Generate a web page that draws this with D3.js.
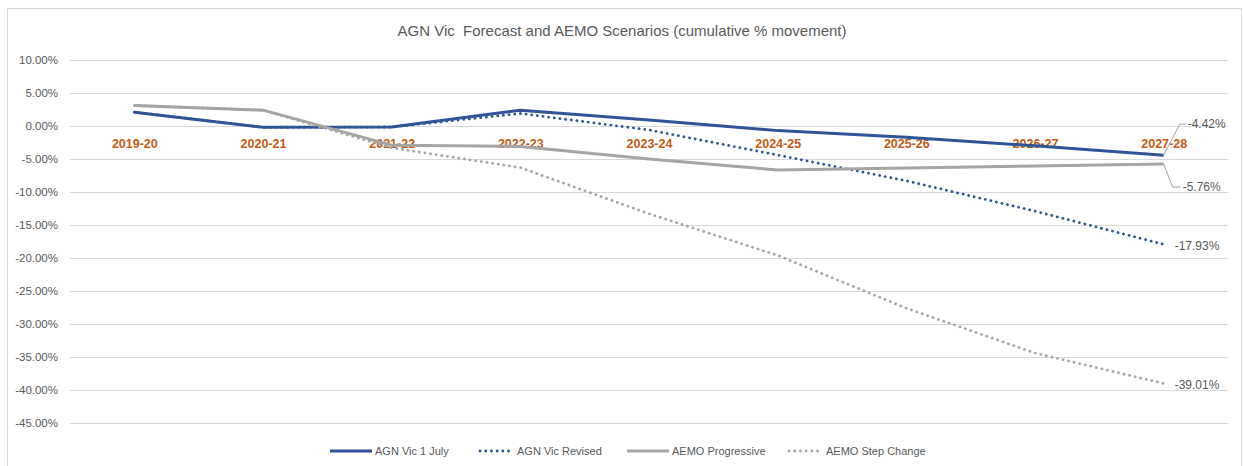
<!DOCTYPE html>
<html>
<head>
<meta charset="utf-8">
<script src="https://cdn.jsdelivr.net/npm/d3@7"></script>
<style>
  body { margin: 0; background: #fff; }
  svg text { font-family: 'Liberation Sans', Arial, sans-serif; }
</style>
</head>
<body>
<div id="outer"></div>
<script>
////////// DATA //////////
const categories = ['2019-20', '2020-21', '2021-22', '2022-23', '2023-24', '2024-25', '2025-26', '2026-27', '2027-28'];
const agnVic1July = [2.1, -0.2, -0.15, 2.4, 0.9, -0.7, -1.7, -3.0, -4.42];
const agnVicRevised = [2.1, -0.2, -0.15, 1.9, -0.6, -4.4, -8.3, -12.9, -17.93];
const aemoProgressive = [3.1, 2.4, -2.9, -3.1, -5.0, -6.67, -6.35, -6.05, -5.76];
const aemoStepChange = [3.1, 2.4, -3.3, -6.3, -13.3, -19.6, -27.6, -34.4, -39.01];
const yTicks = [10, 5, 0, -5, -10, -15, -20, -25, -30, -35, -40, -45];
const seriesNames = ['AGN Vic 1 July', 'AGN Vic Revised', 'AEMO Progressive', 'AEMO Step Change'];

////////// SIZING //////////
const width = 1244, height = 466;
const plot = {left: 70, right: 1228, top: 60, bottom: 423};

// plain hyphen minus, like the source
const pct = d => d.toFixed(2) + '%';

const svg = d3.select('#outer').append('svg')
	.attr('width', width)
	.attr('height', height);

// chart area border
svg.append('rect')
	.attr('x', 7.5).attr('y', 8.5)
	.attr('width', 1234).attr('height', 470)
	.attr('fill', 'none')
	.attr('stroke', '#D9D9D9');

const x = d3.scalePoint().domain(categories).range([plot.left, plot.right]).padding(0.5);
const y = d3.scaleLinear().domain([-45, 10]).range([plot.bottom, plot.top]);

// TITLE //
svg.append('text')
	.attr('x', 622).attr('y', 36)
	.attr('text-anchor', 'middle')
	.attr('fill', '#595959')
	.style('font-size', '15px')
	.style('white-space', 'pre')
	.text('AGN Vic  Forecast and AEMO Scenarios (cumulative % movement)');

// GRIDLINES + Y AXIS //
const yAxis = svg.append('g')
	.attr('transform', `translate(${plot.left},0)`)
	.call(d3.axisLeft(y).tickValues(yTicks)
		.tickSize(-(plot.right - plot.left))
		.tickPadding(12)
		.tickFormat(pct));
yAxis.select('.domain').remove();
yAxis.selectAll('.tick line').attr('stroke', '#D9D9D9');
yAxis.selectAll('.tick text')
	.attr('fill', '#595959')
	.style('font-size', '11.5px');

// X LABELS (sit just under the 0% line, drawn below the series) //
const xAxis = svg.append('g')
	.attr('transform', `translate(0,${y(0)})`)
	.call(d3.axisBottom(x).tickSize(0).tickPadding(13));
xAxis.select('.domain').remove();
xAxis.selectAll('.tick text')
	.attr('fill', '#C55A11')
	.style('font-size', '12.5px')
	.style('font-weight', 'bold');

// SERIES //
const series = [
	{name: seriesNames[0], values: agnVic1July, color: '#2F5597', dotted: false},
	{name: seriesNames[1], values: agnVicRevised, color: '#2F5597', dotted: true},
	{name: seriesNames[2], values: aemoProgressive, color: '#A5A5A5', dotted: false},
	{name: seriesNames[3], values: aemoStepChange, color: '#A5A5A5', dotted: true}
];

const line = d3.line()
	.x((d, i) => x(categories[i]))
	.y(d => y(d));

const styleLine = (sel, s) => sel
	.attr('fill', 'none')
	.attr('stroke', s.color)
	.attr('stroke-width', s.dotted ? 2.8 : 3)
	.attr('stroke-linecap', s.dotted ? 'round' : 'butt')
	.attr('stroke-linejoin', 'round')
	.attr('stroke-dasharray', s.dotted ? '0.1 5.6' : null);

series.forEach(s => {
	svg.append('path')
		.datum(s.values)
		.attr('d', line)
		.call(styleLine, s);
});

// END LABELS //
const last = categories[categories.length - 1];
const lastX = x(last);
const labelColor = '#595959';

// -4.42% with leader line
const v1 = agnVic1July[agnVic1July.length - 1];
svg.append('polyline')
	.attr('points', `${lastX},${y(v1)} ${lastX + 16},${y(v1) - 31} ${lastX + 22},${y(v1) - 31}`)
	.attr('fill', 'none').attr('stroke', '#A5A5A5').attr('stroke-width', 1);
svg.append('text')
	.attr('x', lastX + 24).attr('y', y(v1) - 31)
	.attr('dy', '0.35em')
	.attr('fill', labelColor).style('font-size', '12px')
	.text(pct(v1));

// -5.76% with leader line
const v3 = aemoProgressive[aemoProgressive.length - 1];
svg.append('polyline')
	.attr('points', `${lastX},${y(v3)} ${lastX + 9},${y(v3) + 23} ${lastX + 17},${y(v3) + 23}`)
	.attr('fill', 'none').attr('stroke', '#A5A5A5').attr('stroke-width', 1);
svg.append('text')
	.attr('x', lastX + 19).attr('y', y(v3) + 23)
	.attr('dy', '0.35em')
	.attr('fill', labelColor).style('font-size', '12px')
	.text(pct(v3));

// -17.93% and -39.01%
[agnVicRevised, aemoStepChange].forEach(vals => {
	const v = vals[vals.length - 1];
	svg.append('text')
		.attr('x', lastX + 11).attr('y', y(v) + 1)
		.attr('dy', '0.35em')
		.attr('fill', labelColor).style('font-size', '12px')
		.text(pct(v));
});

// LEGEND //
const legendX = [330, 478, 627, 787];
const legend = svg.append('g').attr('transform', 'translate(0,451)');
series.forEach((s, i) => {
	const g = legend.append('g').attr('transform', `translate(${legendX[i]},0)`);
	g.append('line')
		.attr('x1', s.dotted ? 2 : 0).attr('x2', s.dotted ? 34 : 42)
		.attr('y1', 0).attr('y2', 0)
		.call(styleLine, s);
	g.append('text')
		.attr('x', s.dotted ? 39 : 45).attr('y', 0)
		.attr('dy', '0.35em')
		.attr('fill', '#595959')
		.style('font-size', '11px')
		.text(s.name);
});
</script>
</body>
</html>
